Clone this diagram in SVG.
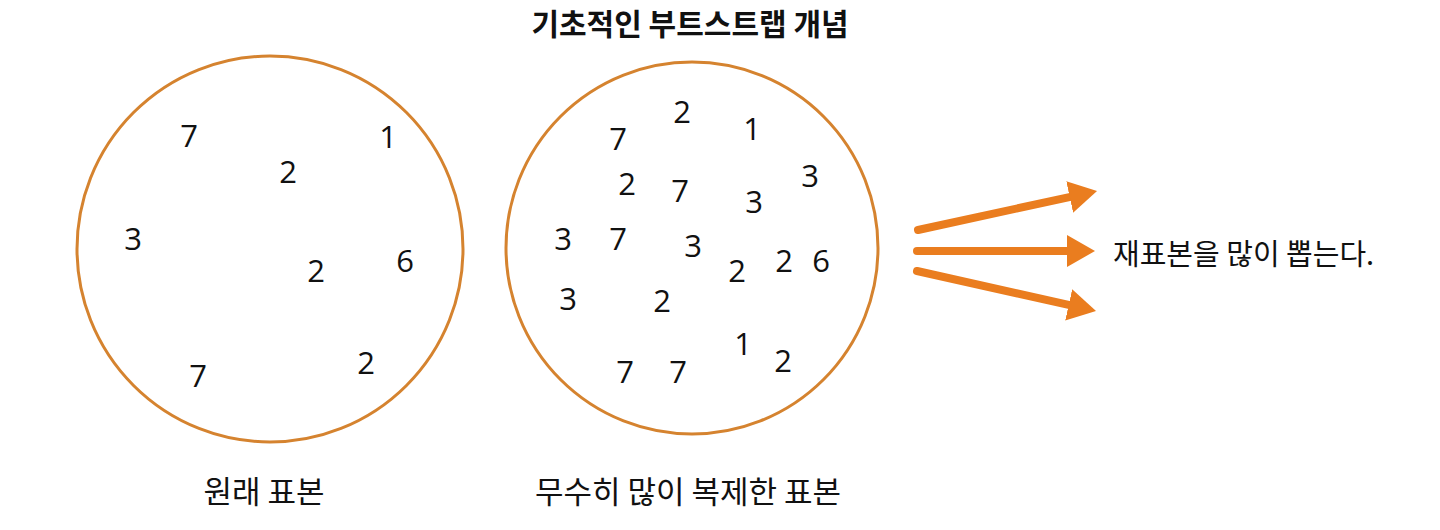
<svg xmlns="http://www.w3.org/2000/svg" width="1440" height="530" viewBox="0 0 1440 530">
<style>
.num{font-family:"Open Sans","Noto Sans",sans-serif;font-size:31px;fill:#111;text-anchor:middle}
.lbl{font-family:"Noto Sans CJK KR","Noto Sans",sans-serif;font-size:31px;fill:#111;text-anchor:middle}
.title{font-family:"Noto Sans CJK KR","Noto Sans",sans-serif;font-size:30px;font-weight:bold;fill:#111;text-anchor:middle}
.ring{fill:none;stroke:#d5832f;stroke-width:3}
.arr{stroke:#ea7d1f;stroke-width:8;stroke-linecap:round;fill:none}
</style>
<defs>
<marker id="head" viewBox="0 0 28 32" refX="8" refY="16" markerWidth="28" markerHeight="32" markerUnits="userSpaceOnUse" orient="auto">
<path d="M0,0 L28,16 L0,32 z" fill="#ea7d1f"/>
</marker>
</defs>
<rect width="1440" height="530" fill="#fff"/>
<text class="title" x="690" y="35">기초적인 부트스트랩 개념</text>

<g id="original">
<circle class="ring" cx="270" cy="249" r="193"/>
<text class="num" x="189" y="147">7</text>
<text class="num" x="388" y="148">1</text>
<text class="num" x="288" y="183">2</text>
<text class="num" x="133" y="250">3</text>
<text class="num" x="316" y="282">2</text>
<text class="num" x="405" y="272">6</text>
<text class="num" x="198" y="387">7</text>
<text class="num" x="366" y="374">2</text>
<text class="lbl" x="264" y="503">원래 표본</text>
</g>

<g id="replicated">
<circle class="ring" cx="692" cy="248" r="186"/>
<text class="num" x="682" y="123">2</text>
<text class="num" x="618" y="150">7</text>
<text class="num" x="752" y="140">1</text>
<text class="num" x="810" y="187">3</text>
<text class="num" x="627" y="195">2</text>
<text class="num" x="680" y="202">7</text>
<text class="num" x="754" y="213">3</text>
<text class="num" x="563" y="250">3</text>
<text class="num" x="618" y="250">7</text>
<text class="num" x="693" y="257">3</text>
<text class="num" x="737" y="282">2</text>
<text class="num" x="784" y="272">2</text>
<text class="num" x="821" y="272">6</text>
<text class="num" x="568" y="310">3</text>
<text class="num" x="662" y="312">2</text>
<text class="num" x="743" y="355">1</text>
<text class="num" x="783" y="372">2</text>
<text class="num" x="625" y="383">7</text>
<text class="num" x="678" y="383">7</text>
<text class="lbl" x="688" y="503">무수히 많이 복제한 표본</text>
</g>

<g id="connectors">
<line class="arr" x1="918" y1="230" x2="1077.5" y2="195.3" marker-end="url(#head)"/>
<line class="arr" x1="917" y1="251" x2="1075" y2="251" marker-end="url(#head)"/>
<line class="arr" x1="917" y1="271" x2="1076.5" y2="306.6" marker-end="url(#head)"/>
</g>

<g id="resample">
<text x="1113" y="265" style="font-family:'Noto Sans CJK KR','Noto Sans',sans-serif;font-size:29px;fill:#111">재표본을 많이 뽑는다.</text>
</g>
</svg>
